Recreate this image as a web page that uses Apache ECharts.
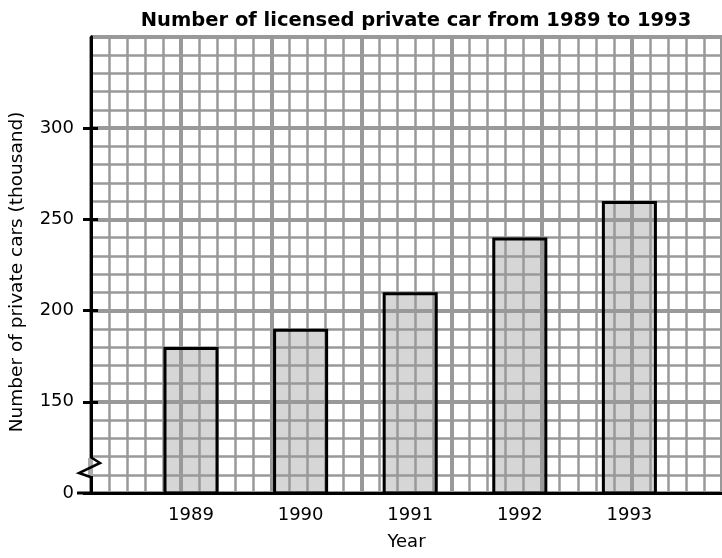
<!DOCTYPE html>
<html>
<head>
<meta charset="utf-8">
<script src="https://cdn.jsdelivr.net/npm/echarts@6/dist/echarts.min.js"></script>
<style>
html, body { margin: 0; padding: 0; background: #fff; }
#main { width: 722px; height: 558px; }
</style>
</head>
<body>
<div id="main"></div>
<script>
// data (thousand cars)
var years = ['1989', '1990', '1991', '1992', '1993'];
var cars = [180, 190, 210, 240, 260];

// y axis is broken: the bottom line (100) is shown as 0
var yTickValues = [100, 150, 200, 250, 300];
var yTickLabels = ['0', '150', '200', '250', '300'];
var yMin = 100, yMax = 350;

var font = 'DejaVu Sans';
var chart = echarts.init(document.getElementById('main'));

// layers: 0 = bar fill, 1 = squared paper, 2 = bar outline, axes, text
var option = {
  backgroundColor: '#fff',
  animation: false,
  title: {
    text: 'Number of licensed private car from 1989 to 1993',
    left: 411,
    top: 6,
    textAlign: 'center',
    zlevel: 2,
    textStyle: { fontFamily: font, fontWeight: 'bold', fontSize: 19.5, color: '#000' }
  },
  grid: [
    // squared paper
    { left: 90.5, right: -7.95, top: 36.75, bottom: 65, zlevel: 1 },
    // bars
    { left: 136.2, right: 37.8, top: 36.75, bottom: 65, zlevel: 2 }
  ],
  xAxis: [
    {
      type: 'value', gridIndex: 0, min: 0, max: 35, interval: 5, zlevel: 1,
      axisLine: { show: false }, axisTick: { show: false }, axisLabel: { show: false },
      splitLine: { show: true, lineStyle: { color: '#999', width: 4 } },
      minorTick: { show: false, splitNumber: 5 },
      minorSplitLine: { show: true, lineStyle: { color: '#999', width: 2.5 } }
    },
    {
      type: 'value', gridIndex: 0, min: 0, max: 35, position: 'bottom', zlevel: 2, z: 5,
      name: 'Year', nameLocation: 'middle', nameGap: 40,
      nameTextStyle: { fontFamily: font, fontSize: 18, color: '#000' },
      axisLine: { show: true, lineStyle: { color: '#000', width: 3 } },
      axisTick: { show: false }, axisLabel: { show: false }, splitLine: { show: false }
    },
    {
      type: 'category', gridIndex: 1, data: years, position: 'bottom', zlevel: 2,
      axisLine: { show: false }, axisTick: { show: false },
      axisLabel: { fontFamily: font, fontSize: 18, color: '#000', margin: 13 }
    }
  ],
  yAxis: [
    {
      type: 'value', gridIndex: 0, min: yMin, max: yMax, interval: 50, zlevel: 1,
      axisLine: { show: false }, axisTick: { show: false }, axisLabel: { show: false },
      splitLine: { show: true, lineStyle: { color: '#999', width: 4 } },
      minorTick: { show: false, splitNumber: 5 },
      minorSplitLine: { show: true, lineStyle: { color: '#999', width: 2.5 } }
    },
    {
      type: 'value', gridIndex: 0, min: yMin, max: yMax, position: 'left', zlevel: 2, z: 5,
      name: 'Number of private cars (thousand)', nameLocation: 'middle', nameGap: 64,
      nameTextStyle: { fontFamily: font, fontSize: 18.5, color: '#000', padding: [0, 14, 0, 0] },
      axisLine: { show: true, lineStyle: { color: '#000', width: 3 } },
      axisTick: { show: true, length: 8, customValues: yTickValues, lineStyle: { color: '#000', width: 3 } },
      axisLabel: {
        customValues: yTickValues, margin: 17, padding: [5, 0, 0, 0],
        fontFamily: font, fontSize: 18, color: '#000',
        formatter: function (v) { return yTickLabels[yTickValues.indexOf(v)]; }
      },
      splitLine: { show: false }
    },
    {
      type: 'value', gridIndex: 0, min: yMin, max: yMax, position: 'left', zlevel: 2, z: 5,
      axisLine: { show: false }, axisLabel: { show: false }, splitLine: { show: false },
      axisTick: { show: true, inside: true, length: 7, customValues: yTickValues, lineStyle: { color: '#000', width: 3 } }
    },
    {
      type: 'value', gridIndex: 1, min: yMin, max: yMax, show: false, zlevel: 2
    }
  ],
  series: [
    {
      // fill, below the paper lines
      type: 'bar', xAxisIndex: 2, yAxisIndex: 3, data: cars, barWidth: '50.2%', zlevel: 0,
      itemStyle: { color: '#d6d6d6' }
    },
    {
      // outline, above the paper lines
      type: 'bar', xAxisIndex: 2, yAxisIndex: 3, data: cars, barWidth: '50.2%', barGap: '-100%', zlevel: 2,
      itemStyle: { color: 'rgba(0,0,0,0)', borderColor: '#000', borderWidth: 3 }
    }
  ],
  graphic: [
    // axis break mark
    { type: 'rect', zlevel: 2, z: 10, shape: { x: 88, y: 458, width: 5, height: 18 }, style: { fill: '#aaa' } },
    {
      type: 'polyline', zlevel: 2, z: 11,
      shape: { points: [[90.5, 457], [100, 463], [79, 473], [90.5, 477]] },
      style: { stroke: '#000', lineWidth: 2.5, fill: null }
    },
    { type: 'line', zlevel: 2, z: 11, shape: { x1: 77, y1: 493, x2: 91, y2: 493 }, style: { stroke: '#000', lineWidth: 3 } }
  ]
};

chart.setOption(option);
</script>
</body>
</html>
